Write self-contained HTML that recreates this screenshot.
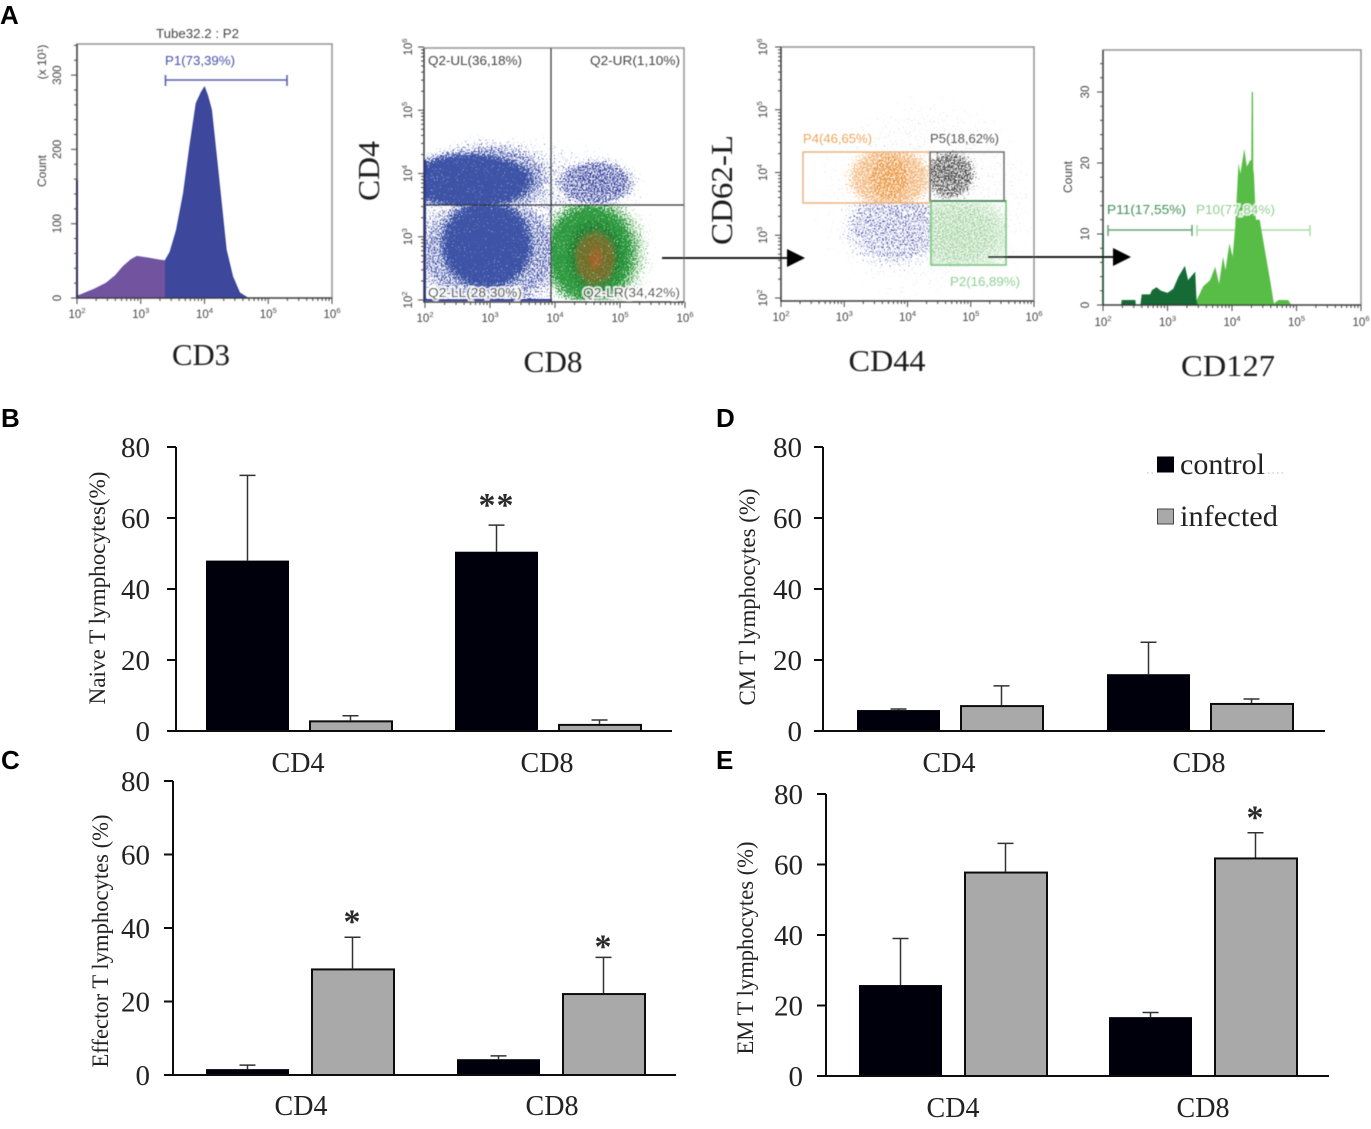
<!DOCTYPE html>
<html lang="en">
<head>
<meta charset="utf-8">
<title>Flow cytometry and T lymphocyte subsets</title>
<style>
html,body{margin:0;padding:0;background:#fff;}
svg{display:block;}
</style>
</head>
<body>
<svg id="figure" xmlns="http://www.w3.org/2000/svg" width="1371" height="1129" viewBox="0 0 1371 1129">
<defs>
<radialGradient id="cloud">
<stop offset="0" stop-color="#fff" stop-opacity="1"/>
<stop offset="0.62" stop-color="#fff" stop-opacity="0.92"/>
<stop offset="1" stop-color="#fff" stop-opacity="0"/>
</radialGradient>
<filter id="soft"><feGaussianBlur stdDeviation="0.45"/></filter>
<filter id="softer"><feGaussianBlur stdDeviation="0.3"/></filter>
</defs>
<rect width="1371" height="1129" fill="#fff"/>
<g id="panelA" filter="url(#soft)"></g>
<g id="panelBars" filter="url(#softer)"></g>
<g id="letters"></g>
</svg>
<script>
// ---- Bar chart data (percent) ----
const categories = ['CD4', 'CD8'];
const barTicks = [0, 20, 40, 60, 80];
const naiveControl = [48, 50.5];
const naiveInfected = [3, 2];
const naiveControlErr = [72, 58];
const naiveInfectedErr = [4.3, 3.1];
const naiveControlSig = ['', '**'];
const naiveInfectedSig = ['', ''];
const effectorControl = [1.6, 4.3];
const effectorInfected = [29, 22.3];
const effectorControlErr = [2.7, 5.2];
const effectorInfectedErr = [37.5, 32];
const effectorControlSig = ['', ''];
const effectorInfectedSig = ['*', '*'];
const cmControl = [5.9, 16];
const cmInfected = [7.3, 7.9];
const cmControlErr = [6.2, 25];
const cmInfectedErr = [12.7, 9];
const cmControlSig = ['', ''];
const cmInfectedSig = ['', ''];
const emControl = [25.8, 16.7];
const emInfected = [58, 62];
const emControlErr = [39, 18];
const emInfectedErr = [66, 69];
const emControlSig = ['', ''];
const emInfectedSig = ['', '*'];
const legendLabels = ['control', 'infected'];

// ---- Histogram data: log10 fluorescence and counts ----
const cd3LogX = [2, 2.05, 2.25, 2.46, 2.6, 2.72, 2.85, 2.94, 3.1, 3.3, 3.38, 3.46, 3.56, 3.67, 3.77, 3.87, 3.95, 4, 4.05, 4.11, 4.21, 4.34, 4.44, 4.55, 4.68];
const cd3Counts = [3, 4, 11, 20, 30, 42, 52, 56, 54, 51, 50, 62, 91, 141, 204, 262, 277, 284, 272, 253, 172, 65, 29, 7, 0];
const cd3GateSplit = 3.38;
const cd127DarkLogX = [2.28, 2.29, 2.5, 2.51, 2.58, 2.6, 2.73, 2.76, 2.83, 2.9, 3, 3.09, 3.17, 3.27, 3.32, 3.43, 3.45, 3.47];
const cd127DarkCounts = [0, 0.7, 0.7, 0, 0, 1.5, 1.5, 2.1, 2.5, 2, 1.7, 2.3, 4, 5.5, 3.5, 4.7, 0.7, 0];
const cd127LightLogX = [3.42, 3.45, 3.5, 3.55, 3.66, 3.74, 3.8, 3.86, 3.9, 3.96, 4.01, 4.05, 4.1, 4.13, 4.19, 4.23, 4.28, 4.3, 4.305, 4.325, 4.33, 4.34, 4.37, 4.43, 4.51, 4.59, 4.65, 4.72, 4.87, 4.91];
const cd127LightCounts = [0, 0.7, 1.6, 2.6, 3.5, 5.4, 3, 6.8, 4.9, 8.7, 6.8, 11, 20, 18.5, 22, 19.5, 20.4, 20.4, 30, 30, 19, 18.5, 12, 12, 7.7, 3.5, 0.2, 0.7, 0.7, 0.15];

// ---- Dot-plot populations: centre and radius in log10 units, density 0..1, colour, gate limits ----
const cd4cd8Names = ['sparse', 'ur', 'll-halo', 'ul-halo', 'ul', 'll', 'lr-halo', 'lr', 'lr-dark', 'lr-core', 'lr-hot'];
const cd4cd8CX = [3.6, 4.62, 3.0, 3.0, 2.7, 2.95, 4.6, 4.54, 4.62, 4.62, 4.62];
const cd4cd8CY = [3.3, 3.85, 2.75, 3.9, 3.88, 2.87, 2.74, 2.74, 2.7, 2.66, 2.66];
const cd4cd8RX = [2.0, 0.77, 1.5, 1.25, 1.3, 0.95, 1.0, 0.9, 0.55, 0.4, 0.14];
const cd4cd8RY = [1.4, 0.47, 1.2, 0.75, 0.58, 0.95, 1.15, 1.05, 0.72, 0.54, 0.25];
const cd4cd8Density = [0.32, 0.58, 0.56, 0.56, 1, 1, 0.74, 0.95, 0.62, 0.8, 0.55];
const cd4cd8Colors = ['#3b4aa6', '#2f3a9a', '#3b4aa6', '#3b4aa6', '#3c52a6', '#3c52a6', '#7fc27f', '#2f9a3f', '#1d6b2a', '#7a6a2c', '#c0562a'];
const cd4cd8XMin = [2, 3.95, 2, 2, 2, 2, 3.95, 3.95, 3.95, 3.95, 3.95];
const cd4cd8XMax = [6, 6, 3.98, 6, 6, 3.98, 6, 6, 6, 6, 6];
const cd4cd8YMax = [6, 6, 3.5, 6, 6, 3.5, 3.5, 3.5, 3.5, 3.5, 3.5];
const cd4cd8YMin = [2, 3.5, 2, 3.5, 3.5, 2, 2, 2, 2, 2, 2];

const cd62Names = ['background', 'blue', 'orange', 'orange-core', 'black', 'green-haze', 'green'];
const cd62CX = [4.3, 3.8, 3.72, 3.72, 4.67, 4.8, 4.78];
const cd62CY = [3.6, 3.16, 3.92, 3.92, 3.96, 3.0, 3.04];
const cd62RX = [2, 1.0, 0.85, 0.4, 0.5, 1.2, 0.95];
const cd62RY = [1.9, 0.8, 0.65, 0.5, 0.5, 0.9, 0.65];
const cd62Density = [0.2, 0.44, 0.68, 0.55, 0.6, 0.72, 0.5];
const cd62Colors = ['#b8b8d0', '#4a50a8', '#f2b87e', '#e8922f', '#444444', '#d4ecd4', '#9dd09d'];
const cd62XMin = [2, 2, 2, 2, 4.36, 4.36, 4.36];
const cd62XMax = [6, 4.36, 4.36, 4.36, 6, 5.55, 5.55];
const cd62YMin = [2, 2, 3.52, 3.52, 3.52, 2.52, 2.52];
const cd62YMax = [6, 3.52, 4.33, 4.33, 4.36, 3.52, 3.52];

// ---- Flow axis labels ----
const logDecades = [2, 3, 4, 5, 6];
const logMinorFactors = [2, 3, 4, 5, 6, 7, 8, 9];
const cd3CountTicks = [0, 100, 200, 300];
const cd127CountTicks = [0, 10, 20, 30];

const NS = 'http://www.w3.org/2000/svg';
const svg = document.getElementById('figure');
const defs = svg.querySelector('defs');
const panelA = document.getElementById('panelA');
const panelBars = document.getElementById('panelBars');
const letters = document.getElementById('letters');

function make(tag, attrs, parent, text) {
  const node = document.createElementNS(NS, tag);
  for (const k in attrs) node.setAttribute(k, attrs[k]);
  if (text !== undefined) node.textContent = text;
  parent.appendChild(node);
  return node;
}

// ---------- Panel letters ----------
const letterDefs = [['A', 0, 24], ['B', 1, 427], ['C', 1, 769], ['D', 716, 427], ['E', 716, 769]];
letterDefs.forEach(function (d) {
  const t = make('text', { x: d[1], y: d[2], 'font-size': 26, 'font-weight': 'bold', fill: '#000', 'font-family': '"Liberation Sans",sans-serif' }, letters, d[0]);
  
  
});

// ---------- Flow helpers ----------
function logAxis(a0, a1) { return function (v) { return a0 + (v - 2) / 4 * (a1 - a0); }; }

function powerLabel(parent, x, y, exp, rotate) {
  const attrs = { x: x, y: y, 'font-size': 11.5, fill: '#444', 'text-anchor': 'middle', 'font-family': '"Liberation Sans",sans-serif' };
  if (rotate) attrs.transform = 'rotate(-90 ' + x + ' ' + y + ')';
  const t = make('text', attrs, parent, '10');
  const s = make('tspan', { 'font-size': 7.5, dy: -5 }, t, String(exp));
  
  
  
  
}

function plotFrame(parent, p) {
  const r = make('rect', { x: p.x0, y: p.top, width: p.x1 - p.x0, height: p.bottom - p.top, fill: 'none', stroke: '#999', 'stroke-width': 1.6 }, parent);
  
  
}

function axisLines(parent, p) {
  const l = make('path', { d: 'M' + p.x0 + ' ' + p.top + 'V' + p.bottom + 'H' + p.x1, fill: 'none', stroke: '#333', 'stroke-width': 1.3 }, parent);
  
  
}

function logXAxis(parent, p, sx, labelY) {
  let d = '';
  logDecades.forEach(function (e) {
    d += 'M' + sx(e) + ' ' + p.bottom + 'v6';
    if (e < 6) logMinorFactors.forEach(function (f) { d += 'M' + sx(e + Math.log10(f)) + ' ' + p.bottom + 'v3'; });
  });
  const t = make('path', { d: d, stroke: '#444', 'stroke-width': 1, fill: 'none' }, parent);
  
  
  logDecades.forEach(function (e) { powerLabel(parent, sx(e), labelY, e, false); });
}

function logYAxis(parent, p, sy, labelX) {
  let d = '';
  logDecades.forEach(function (e) {
    d += 'M' + p.x0 + ' ' + sy(e) + 'h-6';
    if (e < 6) logMinorFactors.forEach(function (f) { d += 'M' + p.x0 + ' ' + sy(e + Math.log10(f)) + 'h-3'; });
  });
  const t = make('path', { d: d, stroke: '#444', 'stroke-width': 1, fill: 'none' }, parent);
  
  
  logDecades.forEach(function (e) { powerLabel(parent, labelX, sy(e), e, true); });
}

function linYAxis(parent, p, sy, ticks, labelX, minorStep, maxV) {
  let d = '';
  for (let v = 0; v <= maxV; v += minorStep) d += 'M' + p.x0 + ' ' + sy(v) + 'h-3';
  ticks.forEach(function (v) { d += 'M' + p.x0 + ' ' + sy(v) + 'h-6'; });
  const t = make('path', { d: d, stroke: '#444', 'stroke-width': 1, fill: 'none' }, parent);
  
  
  ticks.forEach(function (v) {
    const y = sy(v);
    const lab = make('text', { x: labelX, y: y, 'font-size': 11.5, fill: '#444', 'text-anchor': 'middle', 'font-family': '"Liberation Sans",sans-serif', transform: 'rotate(-90 ' + labelX + ' ' + y + ')' }, parent, String(v));
    
    
  });
}

function smallLabel(parent, name, x, y, text, color, anchor, size, rotate, len, halo) {
  const attrs = { x: x, y: y, 'font-size': size || 13, fill: color, 'text-anchor': anchor || 'start', 'font-family': '"Liberation Sans",sans-serif' };
  if (rotate) attrs.transform = 'rotate(-90 ' + x + ' ' + y + ')';
  if (len) { attrs.textLength = len; attrs.lengthAdjust = 'spacingAndGlyphs'; }
  if (halo) { attrs.stroke = '#fff'; attrs['stroke-width'] = 3.5; attrs['stroke-opacity'] = 0.85; attrs['paint-order'] = 'stroke'; }
  const t = make('text', attrs, parent, text);
  
  
  return t;
}

function serifLabel(parent, name, x, y, text, size, rotate, len) {
  const attrs = { x: x, y: y, 'font-size': size, fill: '#1a1a1a', 'text-anchor': 'middle', 'font-family': '"Liberation Serif",serif' };
  if (rotate) attrs.transform = 'rotate(-90 ' + x + ' ' + y + ')';
  if (len) { attrs.textLength = len; attrs.lengthAdjust = 'spacingAndGlyphs'; }
  const t = make('text', attrs, parent, text);
  
  
  return t;
}

function histPath(xs, ys, sx, sy) {
  let d = 'M' + sx(xs[0]) + ' ' + sy(0);
  xs.forEach(function (x, i) { d += 'L' + sx(x).toFixed(1) + ' ' + sy(ys[i]).toFixed(1); });
  return d + 'L' + sx(xs[xs.length - 1]) + ' ' + sy(0) + 'Z';
}

const stippleFilters = {};
function stipple(color) {
  if (stippleFilters[color]) return stippleFilters[color];
  const id = 'st' + color.slice(1);
  const f = make('filter', { id: id, x: '-5%', y: '-5%', width: '110%', height: '110%' }, defs);
  make('feTurbulence', { type: 'fractalNoise', baseFrequency: 0.7, numOctaves: 2, seed: 4, result: 'n' }, f);
  make('feColorMatrix', { in: 'n', type: 'matrix', values: '0 0 0 0 0 0 0 0 0 0 0 0 0 0 0 0 0 0 1.6 -0.3', result: 'na' }, f);
  make('feComposite', { in: 'SourceAlpha', in2: 'na', operator: 'arithmetic', k1: 0, k2: 1, k3: 1, k4: -1, result: 'th' }, f);
  const ct = make('feComponentTransfer', { in: 'th', result: 'mask' }, f);
  make('feFuncA', { type: 'linear', slope: 10, intercept: 0 }, ct);
  make('feFlood', { 'flood-color': color, result: 'col' }, f);
  make('feComposite', { in: 'col', in2: 'mask', operator: 'in' }, f);
  stippleFilters[color] = id;
  return id;
}

let clipCount = 0;
function drawPopulation(parent, name, cx, cy, rx, ry, density, color, xMin, xMax, yMin, yMax, sx, sy) {
  const id = 'clip' + (clipCount++);
  const cp = make('clipPath', { id: id }, defs);
  make('rect', { x: sx(xMin), y: sy(yMax), width: sx(xMax) - sx(xMin), height: sy(yMin) - sy(yMax) }, cp);
  const g = make('g', { 'clip-path': 'url(#' + id + ')' }, parent);
  
  
  const e = make('ellipse', {
    cx: sx(cx), cy: sy(cy),
    rx: Math.abs(sx(cx + rx) - sx(cx)), ry: Math.abs(sy(cy + ry) - sy(cy)),
    fill: 'url(#cloud)', 'fill-opacity': density, filter: 'url(#' + stipple(color) + ')'
  }, g);
  
  
}

// ---------- A1: CD3 histogram ----------
(function () {
  const g = make('g', {}, panelA);
  
  
  const p = { x0: 77, x1: 332, top: 44, bottom: 298 };
  const sx = logAxis(77, 332);
  const sy = function (v) { return 298 - v * 0.743; };
  plotFrame(g, p);
  const id = 'clip' + (clipCount++);
  const cl = make('clipPath', { id: id }, defs);
  make('rect', { x: 0, y: 0, width: sx(cd3GateSplit), height: 400 }, cl);
  const right = make('path', { d: histPath(cd3LogX, cd3Counts, sx, sy), fill: '#3c479c', stroke: '#2b3590', 'stroke-width': 0.8 }, g);
  
  
  const left = make('path', { d: histPath(cd3LogX, cd3Counts, sx, sy), fill: '#71529f', 'clip-path': 'url(#' + id + ')' }, g);
  
  
  const spike = make('line', { x1: 77, x2: 77, y1: 180, y2: 298, stroke: '#2a2f8f', 'stroke-width': 2 }, g);
  
  
  axisLines(g, p);
  logXAxis(g, p, sx, 318);
  linYAxis(g, p, sy, cd3CountTicks, 61, 20, 340);
  smallLabel(g, 'cd3-plot-title', 197.5, 38, 'Tube32.2 : P2', '#444', 'middle', 12.5, false, 83);
  smallLabel(g, 'y-axis-title-count', 46, 171, 'Count', '#444', 'middle', 12, true);
  smallLabel(g, 'y-axis-scale', 46, 62, '(x 10¹)', '#444', 'middle', 12, true);
  smallLabel(g, 'gate-label-p1', 165, 65, 'P1(73,39%)', '#4a4fa8', 'start', 13, false, 70);
  const gate = make('path', { d: 'M165.5 75v11M165.5 80H287M287 75v11', stroke: '#5c5fb0', 'stroke-width': 1.6, fill: 'none' }, g);
  
  
  serifLabel(g, 'x-axis-title-cd3', 201, 365, 'CD3', 31, false, 58);
})();

// ---------- A2: CD4 / CD8 dot plot ----------
(function () {
  const g = make('g', {}, panelA);
  
  
  const p = { x0: 424, x1: 684, top: 48, bottom: 302 };
  const sx = logAxis(425, 685);
  const sy = function (v) { return 300 - (v - 2) * 63.25; };
  plotFrame(g, p);
  cd4cd8Names.forEach(function (n, i) {
    drawPopulation(g, n, cd4cd8CX[i], cd4cd8CY[i], cd4cd8RX[i], cd4cd8RY[i], cd4cd8Density[i], cd4cd8Colors[i], cd4cd8XMin[i], cd4cd8XMax[i], cd4cd8YMin[i], cd4cd8YMax[i], sx, sy);
  });
  const edge = make('path', { d: 'M425 160V300H552', stroke: '#2f3aa0', 'stroke-width': 2, fill: 'none' }, g);
  
  
  const v = make('line', { x1: 551, x2: 551, y1: 48, y2: 302, stroke: '#333', 'stroke-width': 1.2 }, g);
  
  
  const h = make('line', { x1: 424, x2: 684, y1: 205, y2: 205, stroke: '#333', 'stroke-width': 1.2 }, g);
  
  
  axisLines(g, p);
  logXAxis(g, p, sx, 322);
  logYAxis(g, p, sy, 412);
  smallLabel(g, 'quadrant-label-ul', 428, 65, 'Q2-UL(36,18%)', '#444', 'start', 13, false, 94);
  smallLabel(g, 'quadrant-label-ur', 680, 65, 'Q2-UR(1,10%)', '#444', 'end', 13, false, 90);
  smallLabel(g, 'quadrant-label-ll', 428, 297, 'Q2-LL(28,30%)', '#333', 'start', 13, false, 94, true);
  smallLabel(g, 'quadrant-label-lr', 680, 297, 'Q2-LR(34,42%)', '#333', 'end', 13, false, 97, true);
  serifLabel(g, 'x-axis-title-cd8', 553, 372, 'CD8', 31, false, 59);
  serifLabel(g, 'y-axis-title-cd4', 379, 171, 'CD4', 31, true, 60);
})();

// ---------- A3: CD62-L / CD44 dot plot ----------
(function () {
  const g = make('g', {}, panelA);
  
  
  const p = { x0: 781, x1: 1034, top: 47, bottom: 301 };
  const sx = logAxis(781, 1034);
  const sy = function (v) { return 298 - (v - 2) * 62.75; };
  plotFrame(g, p);
  cd62Names.forEach(function (n, i) {
    drawPopulation(g, n, cd62CX[i], cd62CY[i], cd62RX[i], cd62RY[i], cd62Density[i], cd62Colors[i], cd62XMin[i], cd62XMax[i], cd62YMin[i], cd62YMax[i], sx, sy);
  });
  const p4 = make('rect', { x: 803, y: 152, width: 127, height: 51, fill: 'none', stroke: '#e8b078', 'stroke-width': 1.4 }, g);
  
  
  const p5 = make('rect', { x: 930, y: 152, width: 74, height: 49, fill: 'none', stroke: '#666', 'stroke-width': 1.4 }, g);
  
  
  const p2 = make('rect', { x: 931, y: 201, width: 75, height: 64, fill: 'none', stroke: '#84c98b', 'stroke-width': 1.8 }, g);
  
  
  const shared = make('line', { x1: 931, x2: 1006, y1: 201, y2: 201, stroke: '#3f7f55', 'stroke-width': 1.4 }, g);
  
  
  axisLines(g, p);
  logXAxis(g, p, sx, 321);
  logYAxis(g, p, sy, 767);
  smallLabel(g, 'gate-label-p4', 803, 143, 'P4(46,65%)', '#eda65a', 'start', 13, false, 69);
  smallLabel(g, 'gate-label-p5', 930, 143, 'P5(18,62%)', '#555', 'start', 13, false, 69);
  smallLabel(g, 'gate-label-p2', 950, 286, 'P2(16,89%)', '#8fcf95', 'start', 13, false, 70);
  serifLabel(g, 'x-axis-title-cd44', 887, 371, 'CD44', 31, false, 77);
  serifLabel(g, 'y-axis-title-cd62l', 732, 190, 'CD62-L', 31, true, 110);
})();

// ---------- A4: CD127 histogram ----------
(function () {
  const g = make('g', {}, panelA);
  
  
  const p = { x0: 1103, x1: 1361, top: 50, bottom: 305 };
  const sx = logAxis(1103, 1361);
  const sy = function (v) { return 305 - v * 7.1; };
  plotFrame(g, p);
  const gateDark = make('path', { d: 'M1108 225v11M1108 230H1192M1192 225v11', stroke: '#6a9f7a', 'stroke-width': 1.5, fill: 'none' }, g);
  
  
  const gateLight = make('path', { d: 'M1197 225v11M1197 230H1310M1310 225v11', stroke: '#a8dca8', 'stroke-width': 1.5, fill: 'none' }, g);
  
  
  const light = make('path', { d: histPath(cd127LightLogX, cd127LightCounts, sx, sy), fill: '#58bd46' }, g);
  
  
  const dark = make('path', { d: histPath(cd127DarkLogX, cd127DarkCounts, sx, sy), fill: '#126b36' }, g);
  
  
  const leftEdge = make('line', { x1: 1103, x2: 1103, y1: 234, y2: 305, stroke: '#4faf68', 'stroke-width': 2 }, g);
  
  
  axisLines(g, p);
  logXAxis(g, p, sx, 326);
  linYAxis(g, p, sy, cd127CountTicks, 1089, 2, 35);
  smallLabel(g, 'y-axis-title-count', 1072, 177, 'Count', '#444', 'middle', 12, true);
  smallLabel(g, 'gate-label-p11', 1107, 214, 'P11(17,55%)', '#3f8f57', 'start', 13, false, 79);
  smallLabel(g, 'gate-label-p10', 1196, 214, 'P10(77,84%)', '#7ccc7c', 'start', 13, false, 79, true);
  serifLabel(g, 'x-axis-title-cd127', 1228, 376, 'CD127', 31, false, 94);
})();

// ---------- Arrows ----------
[[662, 258, 'arrow-cd8-to-cd44'], [988, 257, 'arrow-cd44-to-cd127']].forEach(function (a) {
  const g = make('g', {}, panelA);
  
  
  const l = make('line', { x1: a[0], x2: a[0] + 127, y1: a[1], y2: a[1], stroke: '#000', 'stroke-width': 1.8 }, g);
  
  
  const h = make('polygon', { points: (a[0] + 125) + ',' + (a[1] - 9) + ' ' + (a[0] + 143) + ',' + a[1] + ' ' + (a[0] + 125) + ',' + (a[1] + 9), fill: '#000' }, g);
  
  
});

// ---------- Bar charts ----------
function drawBarPanel(cfg) {
  const g = make('g', {}, panelBars);
  
  
  const yScale = function (v) { return cfg.bottom - v / 80 * (cfg.bottom - cfg.top); };
  const groupX = function (i) { return cfg.axisX + cfg.offset + i * cfg.period; };

  categories.forEach(function (cat, i) {
    const cx = groupX(i);
    const ix = cx + cfg.barW + cfg.gap;

    const c = make('rect', { x: cx, y: yScale(cfg.control[i]), width: cfg.barW, height: cfg.bottom - yScale(cfg.control[i]), fill: '#030607' }, g);
    
    

    const inf = make('rect', { x: ix + 1, y: yScale(cfg.infected[i]) + 1, width: cfg.barW - 1, height: cfg.bottom - yScale(cfg.infected[i]) - 1, fill: '#a9a9a9', stroke: '#111', 'stroke-width': 2 }, g);
    
    

    [[cx, cfg.control[i], cfg.controlErr[i], cfg.controlSig[i], 'control'],
     [ix, cfg.infected[i], cfg.infectedErr[i], cfg.infectedSig[i], 'infected']].forEach(function (b) {
      const mid = b[0] + cfg.barW / 2;
      const top = yScale(b[2]);
      const eb = make('path', { d: 'M' + (mid - 8) + ' ' + top + 'H' + (mid + 8) + 'M' + mid + ' ' + top + 'V' + yScale(b[1]), stroke: '#333', 'stroke-width': 1.5, fill: 'none' }, g);
      
      
      if (b[3]) {
        const drop = b[3].length > 1 ? -6 : (b[2] === 32 ? 3 : -1.5);
        const st = make('text', { x: mid, y: top - 3 + drop, 'font-size': 34, 'font-weight': 'bold', 'letter-spacing': 1, 'text-anchor': 'middle', fill: '#2a2a2a', 'font-family': '"Liberation Serif",serif' }, g, b[3]);
        
        
      }
    });

    const lab = make('text', { x: cx + cfg.barW + cfg.gap / 2 - 1 + cfg.catDx, y: cfg.catY, 'font-size': 28, 'text-anchor': 'middle', fill: '#222', 'font-family': '"Liberation Serif",serif' }, g, cat);
    
    
  });

  const axis = make('path', { d: 'M' + cfg.axisX + ' ' + cfg.top + 'V' + cfg.bottom + 'H' + cfg.axisEnd, fill: 'none', stroke: '#111', 'stroke-width': 2 }, g);
  
  

  barTicks.forEach(function (v) {
    const y = yScale(v);
    const tk = make('line', { x1: cfg.axisX - 9, x2: cfg.axisX, y1: y, y2: y, stroke: '#111', 'stroke-width': 2 }, g);
    
    
    const lb = make('text', { x: cfg.axisX - cfg.tickGap, y: y + 10, 'font-size': 29, 'text-anchor': 'end', fill: '#222', 'font-family': '"Liberation Serif",serif' }, g, String(v));
    
    
  });

  const yt = make('text', {
    x: cfg.titleX, y: cfg.titleY, 'font-size': 23, 'text-anchor': 'middle', fill: '#222',
    textLength: cfg.titleLen, lengthAdjust: 'spacingAndGlyphs',
    'font-family': '"Liberation Serif",serif',
    transform: 'rotate(-90 ' + cfg.titleX + ' ' + cfg.titleY + ')'
  }, g, cfg.title);
  
  
}

drawBarPanel({ name: 'naive-t-lymphocytes-chart', axisX: 176, axisEnd: 672, top: 447, bottom: 731, offset: 30, period: 249, barW: 83, gap: 20, catY: 772, catDx: 0, tickGap: 26, titleX: 105, titleY: 588, titleLen: 233, title: 'Naive T lymphocytes(%)', control: naiveControl, infected: naiveInfected, controlErr: naiveControlErr, infectedErr: naiveInfectedErr, controlSig: naiveControlSig, infectedSig: naiveInfectedSig });
drawBarPanel({ name: 'effector-t-lymphocytes-chart', axisX: 173, axisEnd: 676, top: 781, bottom: 1075, offset: 33, period: 251, barW: 83, gap: 22, catY: 1115, catDx: 2, tickGap: 23, titleX: 108, titleY: 941, titleLen: 253, title: 'Effector T lymphocytes (%)', control: effectorControl, infected: effectorInfected, controlErr: effectorControlErr, infectedErr: effectorInfectedErr, controlSig: effectorControlSig, infectedSig: effectorInfectedSig });
drawBarPanel({ name: 'cm-t-lymphocytes-chart', axisX: 823, axisEnd: 1325, top: 447, bottom: 731, offset: 34, period: 250, barW: 83, gap: 20, catY: 772, catDx: 0, tickGap: 21, titleX: 755, titleY: 597, titleLen: 217, title: 'CM T lymphocytes (%)', control: cmControl, infected: cmInfected, controlErr: cmControlErr, infectedErr: cmInfectedErr, controlSig: cmControlSig, infectedSig: cmInfectedSig });
drawBarPanel({ name: 'em-t-lymphocytes-chart', axisX: 826, axisEnd: 1329, top: 794, bottom: 1076, offset: 33, period: 250, barW: 83, gap: 22, catY: 1117, catDx: 1, tickGap: 23, titleX: 753, titleY: 948, titleLen: 213, title: 'EM T lymphocytes (%)', control: emControl, infected: emInfected, controlErr: emControlErr, infectedErr: emInfectedErr, controlSig: emControlSig, infectedSig: emInfectedSig });

// ---------- Legend ----------
(function () {
  const g = make('g', {}, panelBars);
  
  
  const fills = ['#030607', '#a9a9a9'];
  const widths = [85, 98];
  legendLabels.forEach(function (label, i) {
    const y = i === 0 ? 457 : 509;
    const sw = make('rect', { x: 1157.5, y: y, width: 16, height: 15, fill: fills[i], stroke: i === 0 ? '#000' : '#444', 'stroke-width': 1 }, g);
    
    
    const t = make('text', { x: 1180, y: y + 17, 'font-size': 30, fill: '#222', textLength: widths[i], lengthAdjust: 'spacingAndGlyphs', 'font-family': '"Liberation Serif",serif' }, g, label);
    
    
  });
  const dots = make('path', { d: 'M1147 473h8M1268 473h16', stroke: '#bbb', 'stroke-width': 1, 'stroke-dasharray': '1.5 3', fill: 'none' }, g);
  
  
})();
</script>
</body>
</html>
